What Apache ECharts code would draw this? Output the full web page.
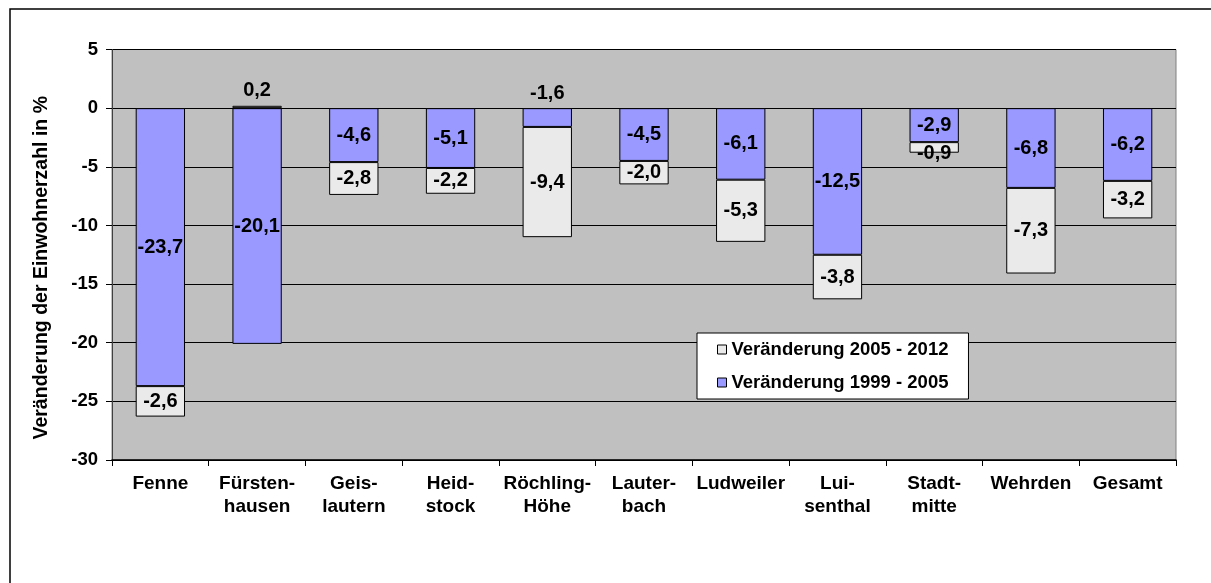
<!DOCTYPE html>
<html>
<head>
<meta charset="utf-8">
<script src="https://cdn.jsdelivr.net/npm/echarts@6/dist/echarts.min.js"></script>
<style>
  html, body { margin: 0; padding: 0; background: #fff; }
  #chart { width: 1211px; height: 583px; }
</style>
</head>
<body>
<div id="chart"></div>
<script>
// Districts and population change in percent
const categories = ['Fenne', 'Fürsten-\nhausen', 'Geis-\nlautern', 'Heid-\nstock', 'Röchling-\nHöhe',
  'Lauter-\nbach', 'Ludweiler', 'Lui-\nsenthal', 'Stadt-\nmitte', 'Wehrden', 'Gesamt'];
const change1999to2005 = [-23.7, -20.1, -4.6, -5.1, -1.6, -4.5, -6.1, -12.5, -2.9, -6.8, -6.2];
const change2005to2012 = [-2.6, 0.2, -2.8, -2.2, -9.4, -2.0, -5.3, -3.8, -0.9, -7.3, -3.2];
const yTicks = { min: -30, max: 5, interval: 5 };
const seriesNames = ['Veränderung 1999 - 2005', 'Veränderung 2005 - 2012'];

const FONT = 'Liberation Sans, Arial, sans-serif';
const fmt = v => v.toFixed(1).replace('.', ',');

const labelBase = {
  show: true,
  fontFamily: FONT,
  fontWeight: 'bold',
  fontSize: 20,
  color: '#000',
  formatter: p => fmt(p.value)
};

// Small segments get their value printed above the bar, tiny ones slightly shifted
function buildItems(values, isLower) {
  return values.map(v => {
    if (v > 0 || (!isLower && Math.abs(v) < 2)) {
      return { value: v, label: { position: 'top', distance: 5 } };
    }
    if (isLower && Math.abs(v) < 1.5) {
      return { value: v, label: { position: 'inside', offset: [0, 6] } };
    }
    return v;
  });
}

const chart = echarts.init(document.getElementById('chart'), null, { renderer: 'canvas' });

chart.setOption({
  animation: false,
  backgroundColor: '#fff',
  textStyle: { fontFamily: FONT },
  graphic: [{
    type: 'rect',
    shape: { x: 10, y: 9, width: 1260, height: 700 },
    style: { fill: 'none', stroke: '#000', lineWidth: 1.5 },
    silent: true
  }],
  grid: {
    left: 112, right: 35, top: 49.5, bottom: 123,
    show: true, backgroundColor: '#c0c0c0', borderColor: '#808080', borderWidth: 1
  },
  legend: {
    data: [seriesNames[1], seriesNames[0]],
    orient: 'vertical',
    left: 697, top: 333,
    backgroundColor: '#fff',
    borderColor: '#000', borderWidth: 1,
    padding: [7, 20, 7, 20],
    itemGap: 14,
    itemWidth: 9, itemHeight: 9,
    icon: 'rect',
    itemStyle: { borderColor: '#000', borderWidth: 1 },
    textStyle: { fontFamily: FONT, fontWeight: 'bold', fontSize: 18.5, color: '#000' }
  },
  xAxis: {
    type: 'category',
    data: categories,
    position: 'bottom',
    axisLine: { onZero: false, lineStyle: { color: '#000', width: 1.5 } },
    axisTick: { show: true, length: 6, lineStyle: { color: '#000' } },
    axisLabel: {
      interval: 0, margin: 12, color: '#000',
      fontFamily: FONT, fontWeight: 'bold', fontSize: 19, lineHeight: 23
    }
  },
  yAxis: {
    type: 'value',
    min: yTicks.min, max: yTicks.max, interval: yTicks.interval,
    name: 'Veränderung der Einwohnerzahl in %',
    nameLocation: 'middle',
    nameGap: 60,
    nameTextStyle: {
      fontFamily: FONT, fontWeight: 'bold', fontSize: 19.5, color: '#000',
      padding: [0, 26, 0, 0]
    },
    axisLine: { show: true, lineStyle: { color: '#404040', width: 1 } },
    axisTick: { show: true, length: 6, lineStyle: { color: '#000' } },
    axisLabel: {
      margin: 14, color: '#000',
      fontFamily: FONT, fontWeight: 'bold', fontSize: 18.5
    },
    splitLine: { show: true, lineStyle: { color: '#000', width: 1 } }
  },
  series: [
    {
      name: seriesNames[0],
      type: 'bar',
      stack: 'total',
      barWidth: '51%',
      data: buildItems(change1999to2005, false),
      itemStyle: { color: '#9999ff', borderColor: '#000', borderWidth: 1 },
      label: Object.assign({ position: 'inside' }, labelBase)
    },
    {
      name: seriesNames[1],
      type: 'bar',
      stack: 'total',
      barWidth: '51%',
      data: buildItems(change2005to2012, true),
      itemStyle: { color: '#eaeaea', borderColor: '#000', borderWidth: 1 },
      label: Object.assign({ position: 'inside' }, labelBase)
    }
  ]
});
</script>
</body>
</html>
